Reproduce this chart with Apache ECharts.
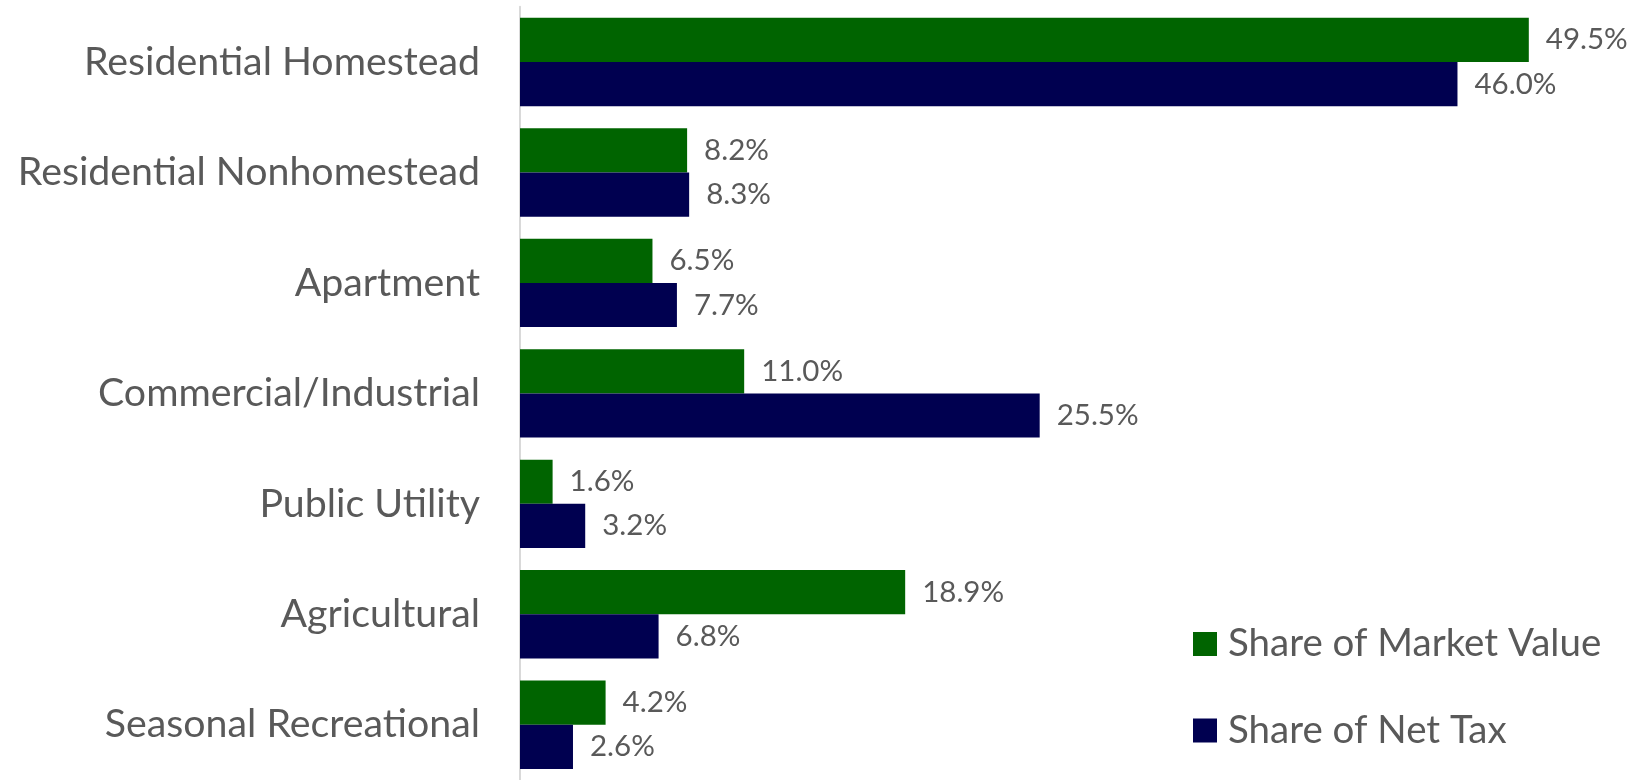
<!DOCTYPE html>
<html>
<head>
<meta charset="utf-8">
<title>Share of Market Value and Net Tax by Property Type</title>
<script src="https://cdn.jsdelivr.net/npm/echarts@6/dist/echarts.min.js"></script>
<style>
  html, body { margin: 0; padding: 0; background: #ffffff; }
  #chart { width: 1635px; height: 780px; }
</style>
</head>
<body>
<div id="chart"></div>
<script>
// Property classes, listed top to bottom
const categories = [
  'Residential Homestead',
  'Residential Nonhomestead',
  'Apartment',
  'Commercial/Industrial',
  'Public Utility',
  'Agricultural',
  'Seasonal Recreational'
];
// Percent shares for each class
const marketValueShare = [49.5, 8.2, 6.5, 11.0, 1.6, 18.9, 4.2];
const netTaxShare = [46.0, 8.3, 7.7, 25.5, 3.2, 6.8, 2.6];
const seriesNames = ['Share of Market Value', 'Share of Net Tax'];

const FONT = 'Lato, "Open Sans", sans-serif';
const TEXT_COLOR = '#595959';

const chart = echarts.init(document.getElementById('chart'), null, { renderer: 'canvas' });

const valueLabel = {
  show: true,
  position: 'right',
  distance: 17,
  color: TEXT_COLOR,
  fontFamily: FONT,
  fontSize: 29.5,
  formatter: p => p.value.toFixed(1) + '%'
};

chart.setOption({
  animation: false,
  backgroundColor: '#ffffff',
  grid: { left: 520, top: 6.75, width: 1019, height: 780.5 },
  xAxis: {
    type: 'value',
    min: 0,
    max: 50,
    axisLine: { show: false },
    axisTick: { show: false },
    axisLabel: { show: false },
    splitLine: { show: false }
  },
  yAxis: {
    type: 'category',
    inverse: true,
    data: categories,
    axisTick: { show: false },
    axisLine: { show: true, lineStyle: { color: '#d9d9d9', width: 2 } },
    axisLabel: {
      interval: 0,
      margin: 40,
      color: TEXT_COLOR,
      fontFamily: FONT,
      fontSize: 39.3
    }
  },
  legend: {
    orient: 'vertical',
    left: 1188,
    top: 619,
    icon: 'rect',
    itemWidth: 24,
    itemHeight: 24,
    itemGap: 46.5,
    selectedMode: false,
    textStyle: {
      color: TEXT_COLOR,
      fontFamily: FONT,
      fontSize: 38.5,
      lineHeight: 40,
      padding: [0, 0, 0, 6]
    },
    data: seriesNames
  },
  series: [
    {
      name: seriesNames[0],
      type: 'bar',
      data: marketValueShare,
      barGap: '0%',
      barCategoryGap: '20%',
      itemStyle: { color: '#006400' },
      label: valueLabel
    },
    {
      name: seriesNames[1],
      type: 'bar',
      data: netTaxShare,
      barGap: '0%',
      barCategoryGap: '20%',
      itemStyle: { color: '#000050' },
      label: valueLabel
    }
  ]
});
</script>
</body>
</html>
